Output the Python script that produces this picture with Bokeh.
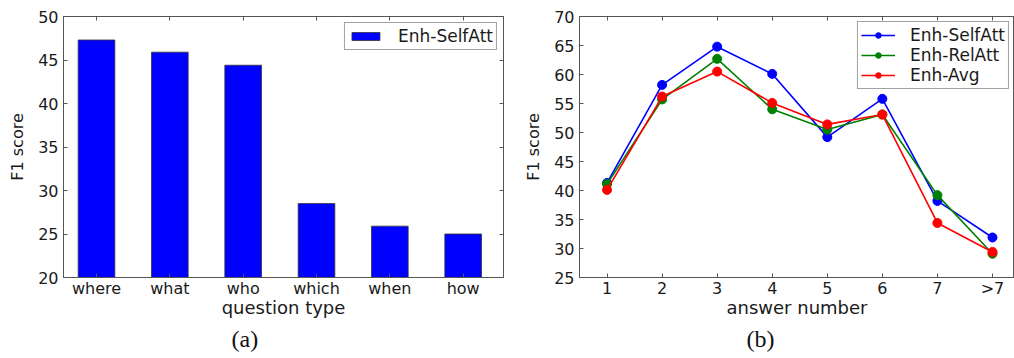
from bokeh.plotting import figure
from bokeh.models import Range1d, FixedTicker, LinearAxis, Title
from bokeh.layouts import row
from bokeh.embed import file_html
from bokeh.resources import INLINE

# ---- data ----
question_types = ["where", "what", "who", "which", "when", "how"]
f1_by_type = [47.3, 45.9, 44.4, 28.5, 25.9, 25.0]
y_ticks_a = [20, 25, 30, 35, 40, 45, 50]

answer_numbers = ["1", "2", "3", "4", "5", "6", "7", ">7"]
enh_selfatt = [41.3, 58.2, 64.8, 60.1, 49.2, 55.8, 38.2, 31.9]
enh_relatt = [41.1, 55.7, 62.7, 54.0, 50.5, 53.1, 39.2, 29.1]
enh_avg = [40.1, 56.2, 60.5, 55.1, 51.4, 53.1, 34.4, 29.4]
y_ticks_b = [25, 30, 35, 40, 45, 50, 55, 60, 65, 70]

FONT = "DejaVu Sans"
TEXT = "#1a1a1a"
SPINE = "#555555"
H = 358


def style_axis(ax, size="16px"):
    ax.axis_line_color = SPINE
    ax.major_tick_line_color = SPINE
    ax.major_tick_in = 4
    ax.major_tick_out = 0
    ax.minor_tick_line_color = None
    ax.major_label_text_font = FONT
    ax.major_label_text_font_size = size
    ax.major_label_text_color = TEXT
    ax.axis_label_text_font = FONT
    ax.axis_label_text_font_style = "normal"
    ax.axis_label_text_color = TEXT


def dummy_axis(ticks, side, p):
    ax = LinearAxis(ticker=FixedTicker(ticks=ticks),
                    major_label_overrides={t: "" for t in ticks})
    style_axis(ax, "1px")
    ax.major_label_standoff = 0
    p.add_layout(ax, side)


def base_fig(width, xr, yr, left, right):
    p = figure(width=width, height=H, x_range=xr, y_range=yr,
               output_backend="svg", toolbar_location=None,
               min_border_left=left, min_border_right=right,
               min_border_top=16, min_border_bottom=81)
    p.xgrid.visible = False
    p.ygrid.visible = False
    p.outline_line_color = SPINE
    p.outline_line_width = 1
    p.background_fill_color = "white"
    p.border_fill_color = "white"
    return p


def style_main_axes(p):
    for ax in p.axis:
        style_axis(ax)
    p.xaxis.major_label_standoff = 1
    p.xaxis.axis_label_standoff = -4
    p.xaxis.axis_label_text_font_size = "18px"
    p.yaxis.major_label_standoff = 5
    p.yaxis.axis_label_standoff = 8
    p.yaxis.axis_label_text_font_size = "16px"


def style_legend(lg, gw, gh, lh, spacing, padding):
    lg.location = "top_right"
    lg.padding = padding
    lg.spacing = spacing
    lg.glyph_width = gw
    lg.glyph_height = gh
    lg.label_height = lh
    lg.label_standoff = 15
    lg.label_text_font = FONT
    lg.label_text_font_size = "17px"
    lg.label_text_color = TEXT
    lg.border_line_color = "#444444"
    lg.border_line_width = 1
    lg.background_fill_alpha = 1


def caption(p, text, offset):
    t = Title(text=text, align="left", offset=offset,
              text_font="Liberation Serif", text_font_size="24px",
              text_font_style="normal", text_color="#111111", standoff=6)
    p.add_layout(t, "below")


# ---- (a) bar chart ----
xs_a = list(range(len(question_types)))
p1 = base_fig(520, Range1d(-0.45, 5.55), Range1d(20, 50), 63, 17)
p1.vbar(x=xs_a, top=f1_by_type, bottom=0, width=0.5,
        fill_color="#0000ff", line_color="#333333", line_width=0.8,
        legend_label="Enh-SelfAtt")
p1.xaxis.ticker = FixedTicker(ticks=xs_a)
p1.xaxis.major_label_overrides = {i: q for i, q in enumerate(question_types)}
p1.yaxis.ticker = FixedTicker(ticks=y_ticks_a)
p1.xaxis.axis_label = "question type"
p1.yaxis.axis_label = "F1 score"
style_main_axes(p1)
dummy_axis(y_ticks_a, "right", p1)
dummy_axis(xs_a, "above", p1)
style_legend(p1.legend[0], 35, 10, 14, 0, 3)
p1.legend[0].margin = 6
caption(p1, "(a)", 168)

# ---- (b) line chart ----
xs_b = list(range(1, len(answer_numbers) + 1))
p2 = base_fig(494, Range1d(0.5, 8.4), Range1d(25, 70), 59, 0)
series = [(enh_selfatt, "#0000ff", "Enh-SelfAtt"),
          (enh_relatt, "#008000", "Enh-RelAtt"),
          (enh_avg, "#ff0000", "Enh-Avg")]
for ys, col, name in series:
    p2.line(xs_b, ys, line_color=col, line_width=1.6, legend_label=name)
    p2.scatter(xs_b, ys, size=9, fill_color=col, line_color=col,
               legend_label=name)
p2.xaxis.ticker = FixedTicker(ticks=xs_b)
p2.xaxis.major_label_overrides = {i: a for i, a in zip(xs_b, answer_numbers)}
p2.yaxis.ticker = FixedTicker(ticks=y_ticks_b)
p2.xaxis.axis_label = "answer number"
p2.yaxis.axis_label = "F1 score"
style_main_axes(p2)
dummy_axis(xs_b, "above", p2)
style_legend(p2.legend[0], 34, 14, 18, 0, 3)
p2.legend[0].margin = 5
caption(p2, "(b)", 167)

layout = row(p1, p2)
open("out.html", "w").write(file_html(layout, INLINE))
